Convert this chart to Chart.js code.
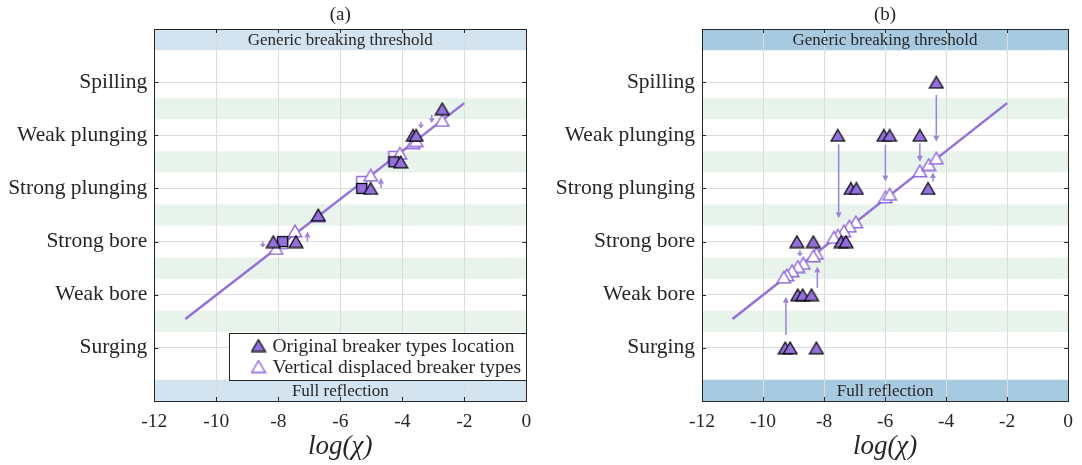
<!DOCTYPE html>
<html><head><meta charset="utf-8">
<script src="https://cdn.jsdelivr.net/npm/chart.js@4.4.1/dist/chart.umd.min.js"></script>
<style>
html,body{margin:0;padding:0;background:#fff;}
#wrap{position:relative;width:1082px;height:465px;}
canvas{position:absolute;top:0;}
#ca{left:0;} #cb{left:541px;}
</style></head><body>
<div id="wrap"><canvas id="ca" width="541" height="465"></canvas><canvas id="cb" width="541" height="465"></canvas></div>
<script>
// ---------- data ----------
const categories = ['Surging', 'Weak bore', 'Strong bore', 'Strong plunging', 'Weak plunging', 'Spilling'];
const xTickValues = [-12, -10, -8, -6, -4, -2, 0];
const panelTitles = ['(a)', '(b)'];
const xAxisTitle = 'log(\u03C7)';
const bandTopLabel = 'Generic breaking threshold';
const bandBottomLabel = 'Full reflection';
const legendLabels = ['Original breaker types location', 'Vertical displaced breaker types'];
const thresholdBands = [[6.6, 7.0], [0.0, 0.4]];
const greenBands = [[1.3, 1.7], [2.3, 2.7], [3.3, 3.7], [4.3, 4.7], [5.3, 5.7]];

// fitted line (same in both panels)
const fitX = [-11, -2];
const fitY = [1.545, 5.605];

// panel (a)
const aOrigTriX = [-2.71, -3.65, -3.55, -4.05, -5.02, -6.71, -8.16, -7.43];
const aOrigTriY = [5.5, 5.0, 5.0, 4.5, 4.0, 3.5, 3.0, 3.0];
const aOrigSqX = [-4.27, -5.31, -7.86];
const aOrigSqY = [4.5, 4.0, 3.0];
const aDispTriX = [-2.71, -3.65, -3.55, -4.08, -5.02, -6.71, -8.07, -7.46];
const aDispTriY = [5.28, 4.86, 4.9, 4.66, 4.25, 3.48, 2.87, 3.2];
const aDispSqX = [-4.27, -5.31, -7.86];
const aDispSqY = [4.6, 4.13, 2.96];
const aArrowX = [-3.05, -3.40, -4.69, -8.50, -7.06];
const aArrowY0 = [5.38, 5.25, 4.01, 3.00, 3.00];
const aArrowY1 = [5.23, 5.13, 4.20, 2.89, 3.19];

// panel (b)
const bOrigTriX = [-4.32, -7.55, -6.04, -5.85, -4.86, -7.12, -6.94, -4.59, -8.89, -8.35, -7.44, -7.28, -8.86, -8.70, -8.41, -9.27, -9.11, -8.25];
const bOrigTriY = [6, 5, 5, 5, 5, 4, 4, 4, 3, 3, 3, 3, 2, 2, 2, 1, 1, 1];
const bDispTriX = [-6.96, -7.17, -7.35, -7.55, -7.68, -8.25, -8.35, -8.68, -8.86, -9.05, -9.22, -9.32, -5.99, -5.85, -4.86, -4.57, -4.32];
const bDispTriY = [3.37, 3.29, 3.2, 3.12, 3.08, 2.78, 2.73, 2.59, 2.53, 2.45, 2.37, 2.33, 3.84, 3.89, 4.33, 4.45, 4.57];
const bArrowX = [-7.52, -5.99, -4.86, -4.32, -4.43, -8.79, -8.22, -9.25];
const bArrowY0 = [4.83, 4.82, 4.85, 5.76, 4.13, 2.84, 2.13, 1.24];
const bArrowY1 = [3.44, 4.13, 4.50, 4.88, 4.30, 2.72, 2.53, 1.96];

// ---------- styling ----------
const PURPLE = '#9370DB';
const ARROW = '#9d80e2';
const TEXT = '#262626';
const SERIF = "'Liberation Serif', 'DejaVu Serif', serif";

function pts(xs, ys) { return xs.map((x, i) => ({x: x, y: ys[i]})); }

// marker images, centred on their bounding box (as in the reference)
function triImage(fill, stroke, lw) {
  const c = document.createElement('canvas'); c.width = 16; c.height = 14;
  const g = c.getContext('2d');
  g.beginPath(); g.moveTo(8, 1.2); g.lineTo(14.8, 12.8); g.lineTo(1.2, 12.8); g.closePath();
  g.fillStyle = fill; g.fill(); g.lineWidth = lw; g.strokeStyle = stroke; g.lineJoin = 'miter'; g.stroke();
  return c;
}
function sqImage(fill, stroke, lw) {
  const c = document.createElement('canvas'); c.width = 13; c.height = 13;
  const g = c.getContext('2d');
  g.fillStyle = fill; g.fillRect(1.5, 1.5, 10, 10);
  g.lineWidth = lw; g.strokeStyle = stroke; g.strokeRect(1.5, 1.5, 10, 10);
  return c;
}
const TRI_FILLED = triImage(PURPLE, '#000000', 1.25);
const TRI_OPEN = triImage('#ffffff', '#8f68e0', 1.4);
const SQ_FILLED = sqImage(PURPLE, '#000000', 1.25);
const SQ_OPEN = sqImage('#ffffff', '#8f68e0', 1.4);

function decoPlugin(spec) {
  return {
    id: 'deco',
    beforeDraw(chart) {
      const {ctx, chartArea: a, scales: {x, y}} = chart;
      ctx.save();
      ctx.fillStyle = '#ffffff';
      ctx.fillRect(0, 0, chart.width, chart.height);
      ctx.beginPath(); ctx.rect(a.left, a.top, a.right - a.left, a.bottom - a.top); ctx.clip();
      ctx.fillStyle = '#e7f3eb';
      greenBands.forEach(b => {
        const p0 = y.getPixelForValue(b[0]), p1 = y.getPixelForValue(b[1]);
        ctx.fillRect(a.left, p1, a.right - a.left, p0 - p1);
      });
      ctx.fillStyle = spec.bandColor;
      thresholdBands.forEach(b => {
        const p0 = y.getPixelForValue(b[0]), p1 = y.getPixelForValue(b[1]);
        ctx.fillRect(a.left, p1, a.right - a.left, p0 - p1);
      });
      ctx.restore();
    },
    beforeDatasetsDraw(chart) {
      const {ctx, scales: {x, y}} = chart;
      ctx.save();
      ctx.strokeStyle = ARROW; ctx.fillStyle = ARROW; ctx.lineWidth = 1.5;
      spec.arrowX.forEach((ax, i) => {
        const px = x.getPixelForValue(ax);
        const p0 = y.getPixelForValue(spec.arrowY0[i]);
        const p1 = y.getPixelForValue(spec.arrowY1[i]);
        const dir = Math.sign(p1 - p0);
        const head = Math.min(6, Math.abs(p1 - p0) * 0.6);
        ctx.beginPath(); ctx.moveTo(px, p0); ctx.lineTo(px, p1 - dir * head); ctx.stroke();
        ctx.beginPath(); ctx.moveTo(px, p1); ctx.lineTo(px - 3, p1 - dir * head); ctx.lineTo(px + 3, p1 - dir * head); ctx.closePath(); ctx.fill();
      });
      ctx.restore();
    },
    afterDraw(chart) {
      const {ctx, chartArea: a, scales: {x, y}} = chart;
      ctx.save();
      // band labels
      ctx.fillStyle = TEXT; ctx.textAlign = 'center'; ctx.textBaseline = 'middle';
      ctx.font = '17px ' + SERIF;
      const cx = (a.left + a.right) / 2;
      ctx.fillText(bandTopLabel, cx, (y.getPixelForValue(thresholdBands[0][0]) + y.getPixelForValue(thresholdBands[0][1])) / 2 + 1);
      ctx.fillText(bandBottomLabel, cx, (y.getPixelForValue(thresholdBands[1][0]) + y.getPixelForValue(thresholdBands[1][1])) / 2 + 1);
      // panel title
      ctx.font = '19px ' + SERIF;
      ctx.fillText(spec.title, cx, 15);
      // tick marks inside
      ctx.strokeStyle = TEXT; ctx.lineWidth = 1;
      ctx.beginPath();
      categories.forEach((c, i) => {
        const py = Math.round(y.getPixelForValue(i + 1)) + 0.5;
        ctx.moveTo(a.left, py); ctx.lineTo(a.left + 4, py);
        ctx.moveTo(a.right, py); ctx.lineTo(a.right - 4, py);
      });
      xTickValues.forEach(v => {
        const px = Math.round(x.getPixelForValue(v)) + 0.5;
        ctx.moveTo(px, a.bottom); ctx.lineTo(px, a.bottom - 4);
        ctx.moveTo(px, a.top); ctx.lineTo(px, a.top + 4);
      });
      ctx.stroke();
      // box
      ctx.strokeStyle = TEXT; ctx.lineWidth = 1;
      ctx.strokeRect(Math.round(a.left) + 0.5, Math.round(a.top) + 0.5, Math.round(a.right - a.left), Math.round(a.bottom - a.top));
      // legend
      if (spec.legend) {
        const w = 297, h = 47;
        const lx = Math.round(a.right) - w + 0.5, ly = Math.round(a.bottom) - 21 - h + 0.5;
        ctx.fillStyle = '#ffffff'; ctx.fillRect(lx, ly, w, h);
        ctx.strokeStyle = TEXT; ctx.strokeRect(lx, ly, w, h);
        const rows = [ly + 12, ly + 33];
        const mx = lx + 29;
        ctx.drawImage(TRI_FILLED, mx - 8, rows[0] - 7);
        ctx.drawImage(TRI_OPEN, mx - 8, rows[1] - 7);
        ctx.fillStyle = TEXT; ctx.textAlign = 'left'; ctx.textBaseline = 'middle';
        ctx.font = '19.5px ' + SERIF;
        ctx.fillText(legendLabels[0], lx + 43, rows[0] + 1);
        ctx.fillText(legendLabels[1], lx + 43, rows[1] + 1);
      }
      ctx.restore();
    }
  };
}

function makePanel(canvasId, spec) {
  const datasets = [
    {label: legendLabels[0], data: pts(spec.origTriX, spec.origTriY), pointStyle: TRI_FILLED, pointRadius: 7}
  ];
  if (spec.origSqX) datasets.push({label: 'orig sq', data: pts(spec.origSqX, spec.origSqY), pointStyle: SQ_FILLED, pointRadius: 7});
  datasets.push({label: legendLabels[1], data: pts(spec.dispTriX, spec.dispTriY), pointStyle: TRI_OPEN, pointRadius: 7});
  if (spec.dispSqX) datasets.push({label: 'disp sq', data: pts(spec.dispSqX, spec.dispSqY), pointStyle: SQ_OPEN, pointRadius: 7});
  datasets.push({label: 'fit', data: pts(fitX, fitY), showLine: true, pointRadius: 0, borderColor: PURPLE, borderWidth: 2.5});

  new Chart(document.getElementById(canvasId), {
    type: 'scatter',
    data: {datasets: datasets},
    options: {
      responsive: false, animation: false, devicePixelRatio: 1,
      layout: {padding: {left: 0, right: spec.padRight, top: 29, bottom: 0}},
      plugins: {legend: {display: false}, tooltip: {enabled: false}},
      scales: {
        x: {
          type: 'linear', min: -12, max: 0,
          afterBuildTicks: s => { s.ticks = xTickValues.map(v => ({value: v})); },
          afterFit: s => { s.height = 64; },
          grid: {color: '#dcdcdc', lineWidth: 1, drawTicks: false},
          border: {display: false},
          ticks: {padding: 9, color: TEXT, font: {family: SERIF, size: 19.5}, callback: v => String(v)},
          title: {display: true, text: xAxisTitle, color: TEXT, font: {family: SERIF, size: 27, style: 'italic'}, padding: {top: 0, bottom: 2}}
        },
        y: {
          type: 'linear', min: 0, max: 7,
          afterBuildTicks: s => { s.ticks = categories.map((c, i) => ({value: i + 1})); },
          afterFit: s => { s.width = spec.yWidth; },
          grid: {color: '#dcdcdc', lineWidth: 1, drawTicks: false},
          border: {display: false},
          ticks: {padding: 7, color: TEXT, font: {family: SERIF, size: 21.5}, callback: v => categories[v - 1]}
        }
      }
    },
    plugins: [decoPlugin(spec)]
  });
}

makePanel('ca', {
  title: panelTitles[0], bandColor: '#d3e3f0', legend: true, padRight: 14.7, yWidth: 154.3,
  origTriX: aOrigTriX, origTriY: aOrigTriY, origSqX: aOrigSqX, origSqY: aOrigSqY,
  dispTriX: aDispTriX, dispTriY: aDispTriY, dispSqX: aDispSqX, dispSqY: aDispSqY,
  arrowX: aArrowX, arrowY0: aArrowY0, arrowY1: aArrowY1
});
makePanel('cb', {
  title: panelTitles[1], bandColor: '#a8cae1', legend: false, padRight: 7, yWidth: 161,
  origTriX: bOrigTriX, origTriY: bOrigTriY,
  dispTriX: bDispTriX, dispTriY: bDispTriY,
  arrowX: bArrowX, arrowY0: bArrowY0, arrowY1: bArrowY1
});
</script>
</body></html>
